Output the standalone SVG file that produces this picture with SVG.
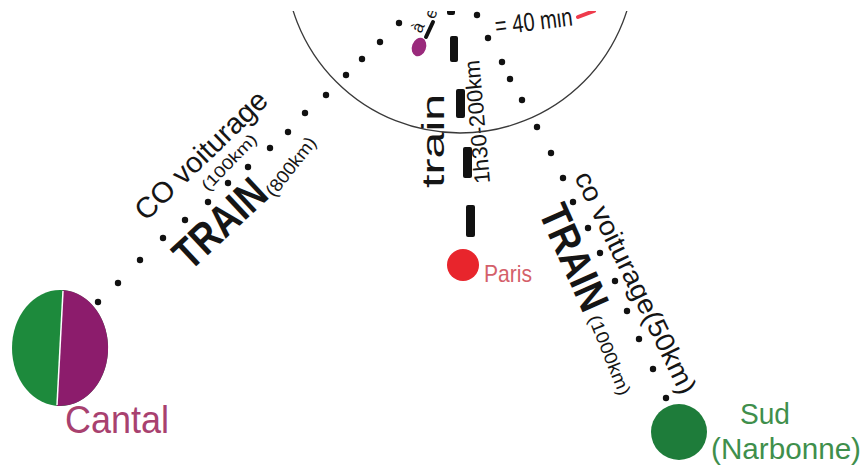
<svg xmlns="http://www.w3.org/2000/svg" width="865" height="474" viewBox="0 0 865 474">
<defs>
<style>
.ink{font-family:"Liberation Sans",Arial,sans-serif;fill:#151515}
.big{font-weight:bold}
.dot{fill:#111}
.dash{fill:#111}
.lbl{font-family:"Liberation Sans",Arial,sans-serif}
</style>
<clipPath id="page"><rect x="0" y="11" width="865" height="463"/></clipPath>
</defs>
<rect width="865" height="474" fill="#fff"/>
<g clip-path="url(#page)">
  <g id="connectors">
    <g id="route-cantal">
      <circle class="dot" cx="98" cy="302" r="3.2"/>
      <circle class="dot" cx="118" cy="283" r="3.2"/>
      <circle class="dot" cx="140" cy="260" r="3.2"/>
      <circle class="dot" cx="163" cy="238" r="3.2"/>
      <circle class="dot" cx="185" cy="220" r="3.2"/>
      <circle class="dot" cx="208" cy="202" r="3.2"/>
      <circle class="dot" cx="228" cy="183" r="3.2"/>
      <circle class="dot" cx="248" cy="167" r="3.2"/>
      <circle class="dot" cx="270" cy="148" r="3.2"/>
      <circle class="dot" cx="288" cy="132" r="3.2"/>
      <circle class="dot" cx="305" cy="113" r="3.2"/>
      <circle class="dot" cx="326" cy="95" r="3.2"/>
      <circle class="dot" cx="346" cy="75" r="3.2"/>
      <circle class="dot" cx="362" cy="59" r="3.2"/>
      <circle class="dot" cx="380" cy="42" r="3.2"/>
      <circle class="dot" cx="399" cy="23" r="3.2"/>
      <text class="ink" font-size="29" transform="translate(146,222) rotate(-44)" textLength="172" lengthAdjust="spacingAndGlyphs">CO voiturage</text>
      <text class="ink" font-size="16" transform="translate(208,192) rotate(-46)" textLength="72" lengthAdjust="spacingAndGlyphs">(100km)</text>
      <text class="ink big" font-size="44" transform="translate(190,272) rotate(-43)" textLength="110" lengthAdjust="spacingAndGlyphs">TRAIN</text>
      <text class="ink" font-size="18" transform="translate(274,198) rotate(-52)" textLength="70" lengthAdjust="spacingAndGlyphs">(800km)</text>
    </g>
    <g id="route-paris">
      <rect class="dash" x="447" y="0" width="8" height="15" rx="2"/>
      <rect class="dash" x="450" y="36" width="8" height="26" rx="2"/>
      <rect class="dash" x="456" y="89" width="9" height="29" rx="2"/>
      <rect class="dash" x="463" y="147" width="9" height="31" rx="2"/>
      <rect class="dash" x="466" y="205" width="9" height="32" rx="2"/>
      <text class="ink" font-size="32" transform="translate(444,188) rotate(-90)" textLength="94" lengthAdjust="spacingAndGlyphs">train</text>
      <text class="ink" font-size="22" transform="translate(490,183) rotate(-95)" textLength="124" lengthAdjust="spacingAndGlyphs">1h30-200km</text>
    </g>
    <g id="route-narbonne">
      <circle class="dot" cx="477" cy="15" r="3.2"/>
      <circle class="dot" cx="488" cy="38" r="3.2"/>
      <circle class="dot" cx="502" cy="62" r="3.2"/>
      <circle class="dot" cx="510" cy="79" r="3.2"/>
      <circle class="dot" cx="522" cy="100" r="3.2"/>
      <circle class="dot" cx="537" cy="127" r="3.2"/>
      <circle class="dot" cx="551" cy="153" r="3.2"/>
      <circle class="dot" cx="563" cy="178" r="3.2"/>
      <circle class="dot" cx="573" cy="202" r="3.2"/>
      <circle class="dot" cx="588" cy="228" r="3.2"/>
      <circle class="dot" cx="600" cy="253" r="3.2"/>
      <circle class="dot" cx="615" cy="281" r="3.2"/>
      <circle class="dot" cx="627" cy="311" r="3.2"/>
      <circle class="dot" cx="639" cy="339" r="3.2"/>
      <circle class="dot" cx="653" cy="369" r="3.2"/>
      <circle class="dot" cx="666" cy="398" r="3.2"/>
      <text class="ink" font-size="27" transform="translate(574,177) rotate(64)" textLength="244" lengthAdjust="spacingAndGlyphs">co voiturage(50km)</text>
      <text class="ink big" font-size="42" transform="translate(538,212) rotate(66)" textLength="112" lengthAdjust="spacingAndGlyphs">TRAIN</text>
      <text class="ink" font-size="18" transform="translate(588,318) rotate(68)" textLength="85" lengthAdjust="spacingAndGlyphs">(1000km)</text>
    </g>
    <g id="route-top">
      <line x1="426" y1="37" x2="433" y2="22" stroke="#111" stroke-width="4" stroke-linecap="round"/>
      <text class="ink" font-size="17" transform="translate(421,34) rotate(-65)">à</text>
      <text class="ink" font-size="17" transform="translate(434,20) rotate(-65)">e</text>
      <text class="ink" font-size="26" transform="translate(496,35) rotate(-7)" textLength="78" lengthAdjust="spacingAndGlyphs">= 40 min</text>
      <line x1="578" y1="17" x2="594" y2="11" stroke="#ef3b4c" stroke-width="4" stroke-linecap="round"/>
    </g>
  </g>
  <g id="node-zone">
    <circle cx="460" cy="-42" r="175" fill="none" stroke="#3a3a3a" stroke-width="1.3"/>
    <ellipse cx="419" cy="47" rx="7" ry="9.5" transform="rotate(20 419 47)" fill="#9a2a7c"/>
  </g>
  <g id="node-paris">
    <circle cx="463" cy="265" r="16" fill="#e8252c"/>
    <text class="lbl" x="484" y="282" font-size="24" fill="#d4606a" textLength="48" lengthAdjust="spacingAndGlyphs">Paris</text>
  </g>
  <g id="node-cantal">
    <ellipse cx="60" cy="348" rx="48" ry="58" fill="#1d8a3c"/>
    <path d="M63,290 A48,58 0 0 1 57,406 Z" fill="#8c1c6c"/>
    <line x1="63" y1="291" x2="57" y2="405" stroke="#fff" stroke-width="1.5"/>
    <text class="lbl" x="65" y="433" font-size="38" fill="#a8416f" textLength="104" lengthAdjust="spacingAndGlyphs">Cantal</text>
  </g>
  <g id="node-narbonne">
    <circle cx="679" cy="432" r="28" fill="#1e7c3a"/>
    <text class="lbl" x="740" y="424" font-size="29" fill="#3f8f4c" textLength="50" lengthAdjust="spacingAndGlyphs">Sud</text>
    <text class="lbl" x="711" y="459" font-size="29" fill="#3f8f4c" textLength="150" lengthAdjust="spacingAndGlyphs">(Narbonne)</text>
  </g>
</g>
</svg>
